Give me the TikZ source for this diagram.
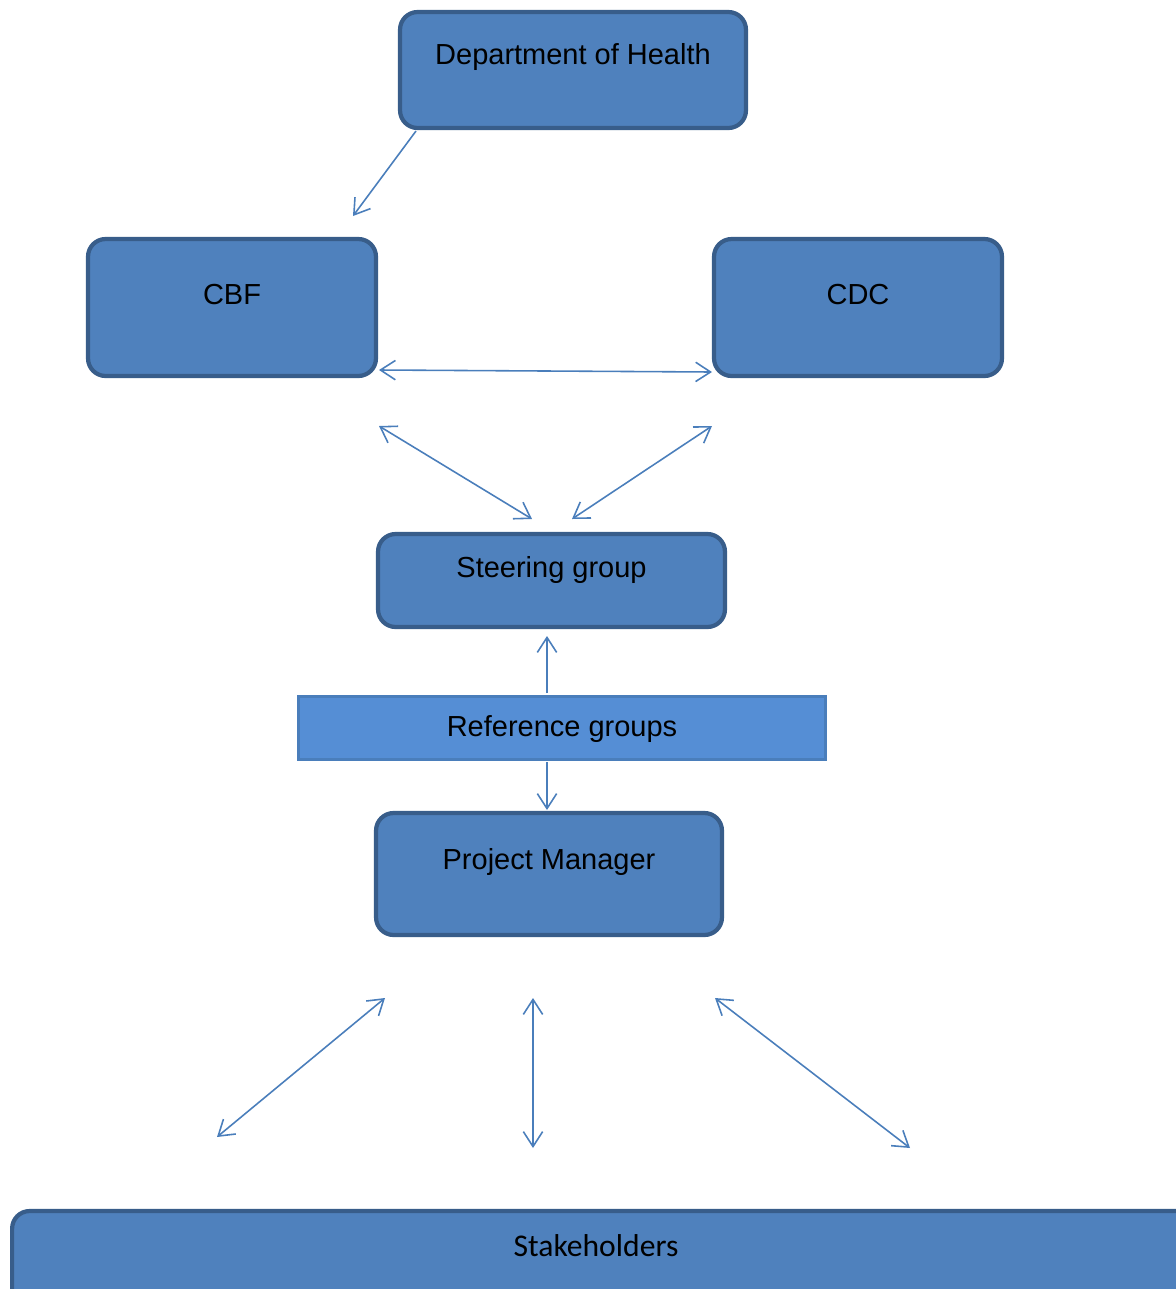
\documentclass[tikz,border=0pt]{standalone}
\usepackage{fontspec}
\setmainfont{Liberation Sans}
\newfontfamily\calibrifont{Carlito}
\definecolor{boxfill}{RGB}{79, 129, 189}
\definecolor{boxline}{RGB}{56, 93, 138}
\definecolor{reffill}{RGB}{85, 142, 213}
\definecolor{refline}{RGB}{74, 126, 187}
\definecolor{arrowblue}{RGB}{74, 126, 187}
\usetikzlibrary{arrows.meta, positioning}

\begin{document}
\begin{tikzpicture}[x=0.02cm, y=-0.02cm,
  >={Straight Barb[length=8.5pt, width=11pt]},
  orgbox/.style={draw=boxline, fill=boxfill, line width=2.4pt, rounded corners=10pt, inner sep=0pt},
  refbox/.style={draw=refline, fill=reffill, line width=1.7pt, inner sep=0pt},
  boxtext/.style={font=\fontsize{16.5}{20}\selectfont, text=black, inner sep=0pt},
  link/.style={draw=arrowblue, line width=0.9pt}]
  \useasboundingbox (0,0) rectangle (1176,1289);

  % The boxes
  \node[orgbox, minimum width=6.92cm, minimum height=2.32cm] (doh) at (573,70) {};
  \node[boxtext] (dohtext) at (573,57) {Department of Health};

  \node[orgbox, minimum width=5.76cm, minimum height=2.74cm] (cbf) at (232,307.5) {};
  \node[boxtext] (cbftext) at (232,295) {CBF};

  \node[orgbox, minimum width=5.76cm, minimum height=2.74cm] (cdc) at (858,307.5) {};
  \node[boxtext] (cdctext) at (858,295) {CDC};

  \node[orgbox, minimum width=6.94cm, minimum height=1.86cm] (steer) at (551.5,580.5) {};
  \node[boxtext] (steertext) at (551.5,570) {Steering group};

  \node[refbox, minimum width=10.54cm, minimum height=1.26cm] (refg) at (562,728) {};
  \node[boxtext] (refgtext) at (562,729) {Reference groups};

  \node[orgbox, minimum width=6.92cm, minimum height=2.44cm] (pm) at (549,874) {};
  \node[boxtext] (pmtext) at (549,862) {Project Manager};

  \node[orgbox, minimum width=23.72cm, minimum height=1.94cm] (stake) at (605,1259.5) {};
  \node[boxtext, font=\calibrifont\fontsize{18}{22}\selectfont] (staketext) at (596,1246) {Stakeholders};

  % Arrow ends
  \coordinate (dohout) at (416,131);
  \coordinate (cbfin) at (353,216);
  \coordinate (cbfright) at (379,370);
  \coordinate (cdcleft) at (712,372);
  \coordinate (cbfdown) at (379,426);
  \coordinate (steerleft) at (532,519);
  \coordinate (cdcdown) at (712,426);
  \coordinate (steerright) at (572,519);
  \coordinate (refup) at (547,693);
  \coordinate (steerin) at (547,636);
  \coordinate (refdown) at (547,762);
  \coordinate (pmin) at (547,810);
  \coordinate (pmleft) at (385,998);
  \coordinate (stakeleft) at (217,1137);
  \coordinate (pmmid) at (533,998);
  \coordinate (stakemid) at (533,1148);
  \coordinate (pmright) at (715,998);
  \coordinate (stakeright) at (910,1148);

  % Connectors
  \draw[link, ->] (dohout) -- (cbfin);
  \draw[link, <->] (cbfright) -- (cdcleft);
  \draw[link, <->] (cbfdown) -- (steerleft);
  \draw[link, <->] (cdcdown) -- (steerright);
  \draw[link, ->] (refup) -- (steerin);
  \draw[link, ->] (refdown) -- (pmin);
  \draw[link, <->] (pmleft) -- (stakeleft);
  \draw[link, <->] (pmmid) -- (stakemid);
  \draw[link, <->] (pmright) -- (stakeright);
\end{tikzpicture}
\end{document}
